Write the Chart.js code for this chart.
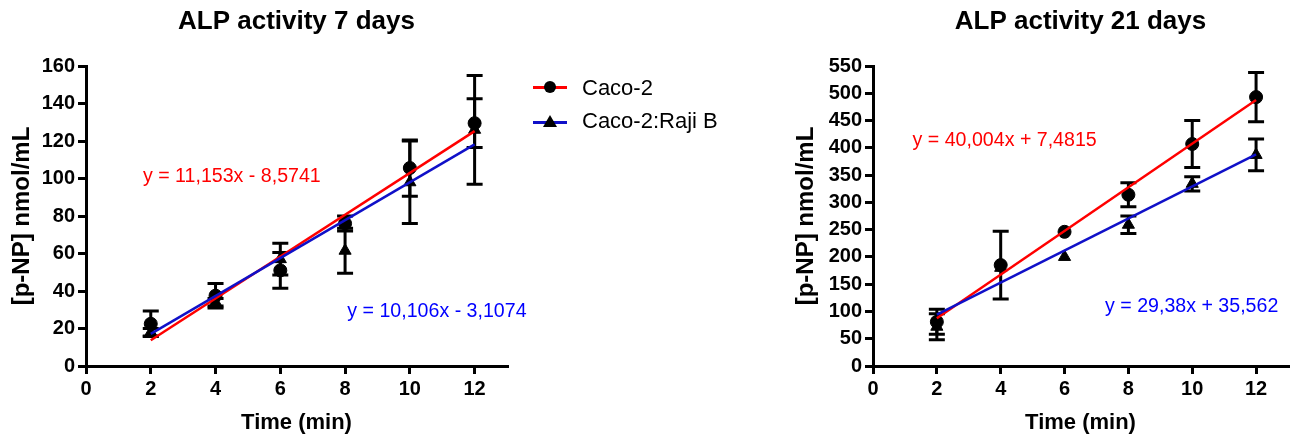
<!DOCTYPE html>
<html>
<head>
<meta charset="utf-8">
<script src="https://cdn.jsdelivr.net/npm/chart.js@4/dist/chart.umd.min.js"></script>
<style>
  body { margin: 0; width: 1296px; height: 439px; background: #fff; position: relative; overflow: hidden;
         font-family: "Liberation Sans", Arial, sans-serif; }
  canvas { position: absolute; top: 0; }
  #chart7 { left: 0; }
  #chart21 { left: 780px; }
  .legLine { position: absolute; left: 533px; width: 34px; height: 3px; }
  .legDot { position: absolute; left: 544px; width: 12px; height: 12px; border-radius: 50%; background: #000; }
  .legTri { position: absolute; left: 543px; width: 0; height: 0; border-left: 7px solid transparent;
            border-right: 7px solid transparent; border-bottom: 12px solid #000; }
  .legText { position: absolute; left: 582px; font-size: 22px; line-height: 22px; color: #000; white-space: nowrap; }
</style>
</head>
<body>
<canvas id="chart7" width="560" height="439"></canvas>
<canvas id="chart21" width="516" height="439"></canvas>

<div class="legLine" style="top:86px;background:#ff0000"></div>
<div class="legDot" style="top:81px"></div>
<div class="legText" style="top:77px">Caco-2</div>
<div class="legLine" style="top:121px;background:#1010c8"></div>
<div class="legTri" style="top:115px"></div>
<div class="legText" style="top:110px">Caco-2:Raji B</div>

<script>
// time points (min)
const timePoints = [2, 4, 6, 8, 10, 12];

// 7 days
const caco7 = [22.5, 37.5, 51, 76, 105.6, 129.5];
const caco7Err = [6.8, 6.5, 9.5, 4, 15, 13];
const raji7 = [18, 34, 57, 61.5, 98, 126];
const raji7Err = [2, 2, 8.5, 12, 22, 29];
// trend line ends (x = 2 and x = 12)
const cacoFit7 = [13.73, 125.26];
const rajiFit7 = [17.10, 118.16];

// 21 days
const caco21 = [81, 185, 246, 314, 407, 493];
const caco21Err = [23, 62, 0, 22, 43, 45];
const raji21 = [72, 180, 200, 259, 334, 387];
const raji21Err = [24, 0, 0, 16, 13, 29];
const cacoFit21 = [87.49, 487.53];
const rajiFit21 = [94.32, 388.12];

const fitX = [2, 12];

const RED = '#ff0000';
const BLUE_LINE = '#1010c8';
const BLUE_TEXT = '#0000ff';
const FONT = '"Liberation Sans", Arial, sans-serif';

const extras = {
    id: 'extras',
    beforeDatasetsDraw(chart, args, opts) {
        const ctx = chart.ctx;
        const x = chart.scales.x, y = chart.scales.y;
        ctx.save();
        ctx.strokeStyle = '#000';
        ctx.lineWidth = 3;
        opts.errors.forEach(function(s) {
            s.values.forEach(function(v, i) {
                if (!s.err[i]) return;
                const px = x.getPixelForValue(timePoints[i]);
                const top = y.getPixelForValue(v + s.err[i]);
                const bot = y.getPixelForValue(v - s.err[i]);
                ctx.beginPath();
                ctx.moveTo(px, top); ctx.lineTo(px, bot);
                ctx.moveTo(px - 8, top); ctx.lineTo(px + 8, top);
                ctx.moveTo(px - 8, bot); ctx.lineTo(px + 8, bot);
                ctx.stroke();
            });
        });
        ctx.restore();
    },
    afterDraw(chart, args, opts) {
        const ctx = chart.ctx;
        const area = chart.chartArea;
        const x = chart.scales.x, y = chart.scales.y;
        ctx.save();
        ctx.fillStyle = '#000';
        ctx.font = 'bold 26px ' + FONT;
        ctx.textAlign = 'center';
        ctx.textBaseline = 'middle';
        ctx.fillText(opts.title, (area.left + area.right) / 2, 22);
        ctx.font = '19.6px ' + FONT;
        ctx.textAlign = 'left';
        opts.labels.forEach(function(l) {
            ctx.fillStyle = l.color;
            ctx.fillText(l.text, x.getPixelForValue(l.x), y.getPixelForValue(l.y));
        });
        ctx.restore();
    }
};

function toPoints(xs, ys) {
    return xs.map((v, i) => ({x: v, y: ys[i]}));
}

function makeChart(id, cfg) {
    const ctx = document.getElementById(id).getContext('2d');
    return new Chart(ctx, {
        type: 'scatter',
        data: {
            datasets: [
                {
                    label: 'Caco-2:Raji B fit',
                    data: toPoints(fitX, cfg.rajiFit),
                    showLine: true,
                    borderColor: BLUE_LINE,
                    borderWidth: 2.5,
                    pointRadius: 0,
                    order: 0
                },
                {
                    label: 'Caco-2 fit',
                    data: toPoints(fitX, cfg.cacoFit),
                    showLine: true,
                    borderColor: RED,
                    borderWidth: 2.5,
                    pointRadius: 0,
                    order: 1
                },
                {
                    label: 'Caco-2',
                    data: toPoints(timePoints, cfg.caco),
                    pointStyle: 'circle',
                    pointRadius: 6.5,
                    backgroundColor: '#000',
                    borderColor: '#000',
                    order: 2
                },
                {
                    label: 'Caco-2:Raji B',
                    data: toPoints(timePoints, cfg.raji),
                    pointStyle: 'triangle',
                    pointRadius: 7,
                    backgroundColor: '#000',
                    borderColor: '#000',
                    order: 3
                }
            ]
        },
        options: {
            responsive: false,
            animation: false,
            events: [],
            layout: { padding: { left: 0, right: cfg.padRight, top: 66, bottom: 0 } },
            plugins: {
                legend: { display: false },
                tooltip: { enabled: false },
                extras: {
                    title: cfg.title,
                    labels: cfg.labels,
                    errors: [
                        { values: cfg.caco, err: cfg.cacoErr },
                        { values: cfg.raji, err: cfg.rajiErr }
                    ]
                }
            },
            scales: {
                x: {
                    type: 'linear',
                    min: 0,
                    max: 13,
                    afterFit: function(scale) { scale.height = 73; },
                    border: { display: true, color: '#000', width: 3 },
                    grid: { display: true, drawOnChartArea: false, drawTicks: true, tickLength: 8, color: '#000', lineWidth: 3 },
                    ticks: { stepSize: 2, includeBounds: false, color: '#000', padding: 3,
                             font: { family: FONT, size: 20, weight: 'bold' } },
                    title: {
                        display: true,
                        text: 'Time (min)',
                        color: '#000',
                        font: { family: FONT, size: 22, weight: 'bold', lineHeight: 1 },
                        padding: { top: 0, bottom: 5 }
                    }
                },
                y: {
                    type: 'linear',
                    min: 0,
                    max: cfg.yMax,
                    afterFit: function(scale) { scale.width = cfg.yWidth; },
                    border: { display: true, color: '#000', width: 3 },
                    grid: { display: true, drawOnChartArea: false, drawTicks: true, tickLength: 8, color: '#000', lineWidth: 3 },
                    ticks: { stepSize: cfg.yStep, color: '#000', padding: 3,
                             font: { family: FONT, size: 20, weight: 'bold' } },
                    title: {
                        display: true,
                        text: '[p-NP] nmol/mL',
                        color: '#000',
                        font: { family: FONT, size: 24, weight: 'bold', lineHeight: 1 },
                        padding: { top: cfg.yTitlePad, bottom: 0 }
                    }
                }
            }
        },
        plugins: [extras]
    });
}

makeChart('chart7', {
    title: 'ALP activity 7 days',
    caco: caco7, cacoErr: caco7Err,
    raji: raji7, rajiErr: raji7Err,
    cacoFit: cacoFit7, rajiFit: rajiFit7,
    yMax: 160, yStep: 20, yWidth: 86, padRight: 53, yTitlePad: 10,
    labels: [
        { text: 'y = 11,153x - 8,5741', x: 1.76, y: 100.8, color: RED },
        { text: 'y = 10,106x - 3,1074', x: 8.07, y: 28.8, color: BLUE_TEXT }
    ]
});

makeChart('chart21', {
    title: 'ALP activity 21 days',
    caco: caco21, cacoErr: caco21Err,
    raji: raji21, rajiErr: raji21Err,
    cacoFit: cacoFit21, rajiFit: rajiFit21,
    yMax: 550, yStep: 50, yWidth: 93, padRight: 3, yTitlePad: 14,
    labels: [
        { text: 'y = 40,004x + 7,4815', x: 1.24, y: 414, color: RED },
        { text: 'y = 29,38x + 35,562', x: 7.27, y: 108, color: BLUE_TEXT }
    ]
});
</script>
</body>
</html>
